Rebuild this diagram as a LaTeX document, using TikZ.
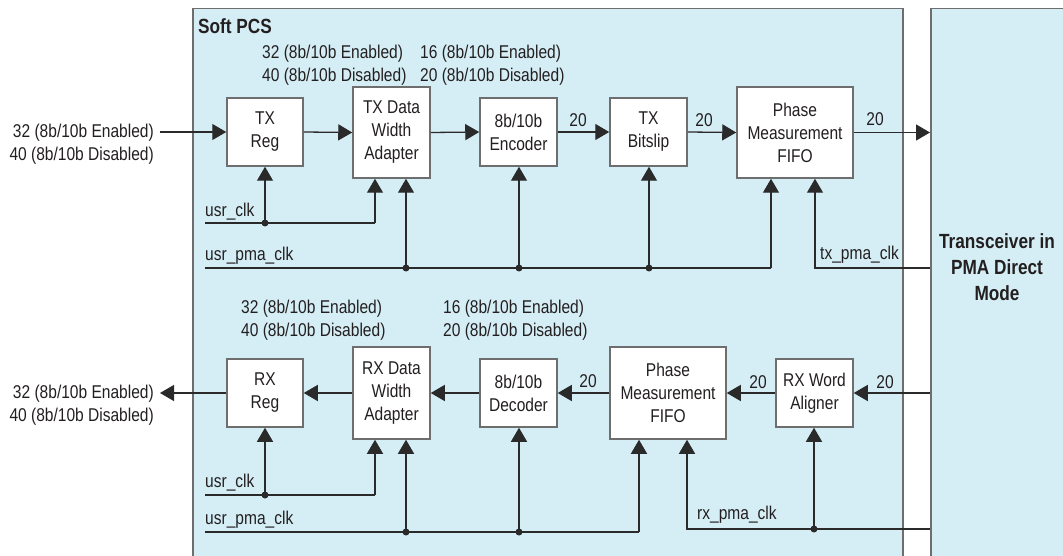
\documentclass[tikz,border=0pt]{standalone}
\usepackage{fontspec}
\setmainfont{Liberation Sans}[FakeStretch=0.84]
\usetikzlibrary{arrows.meta,calc}
\definecolor{pcsfill}{HTML}{D5EEF6}
\definecolor{bordergray}{HTML}{6E6E6E}
\definecolor{linecol}{HTML}{2A2A2A}
\definecolor{txtcol}{HTML}{231F20}
\begin{document}
\begin{tikzpicture}[x=1pt,y=-1pt,
  every node/.style={font=\fontsize{18.5}{23}\selectfont, text=txtcol},
  blk/.style={draw=bordergray, line width=1.5pt, fill=white, align=center, inner sep=0pt},
  region/.style={draw=bordergray, line width=1.5pt, fill=pcsfill, inner sep=0pt},
  conn/.style={draw=linecol, line width=1.3pt},
  arr/.style={conn, -{Triangle[length=14pt,width=16pt]}},
  lbl/.style={inner sep=0pt},
  dot/.style={circle, fill=linecol, inner sep=0pt, minimum size=7pt},
  title/.style={font=\fontsize{20.5}{26}\selectfont\bfseries, inner sep=0pt}
]
\useasboundingbox (0,0) rectangle (1063,556);
\clip (0,0) rectangle (1063,556);
% regions
\node[region, anchor=north west, minimum width=710, minimum height=580] (pcs) at (192,8) {};
\node[region, anchor=north west, minimum width=150, minimum height=580] (trx) at (930,8) {};
\node[title, anchor=west] (pcslbl) at (198,26) {Soft PCS};
\node[title, align=center] (trxlbl) at (997,267) {Transceiver in\\PMA Direct\\Mode};

% TX blocks
\node[blk, minimum width=76, minimum height=68] (txreg) at (265,132) {TX\\Reg};
\node[blk, minimum width=77, minimum height=91] (txadp) at (391.5,132.5) {TX Data\\Width\\Adapter};
\node[blk, minimum width=77, minimum height=68] (txenc) at (518.5,132) {8b/10b\\Encoder};
\node[blk, minimum width=77, minimum height=68] (txbit) at (648.5,132) {TX\\Bitslip};
\node[blk, minimum width=116, minimum height=91] (txfifo) at (795,132.5) {Phase\\Measurement\\FIFO};

% RX blocks
\node[blk, minimum width=76, minimum height=68] (rxreg) at (265,393) {RX\\Reg};
\node[blk, minimum width=77, minimum height=92] (rxadp) at (391.5,393) {RX Data\\Width\\Adapter};
\node[blk, minimum width=77, minimum height=68] (rxdec) at (518.5,393) {8b/10b\\Decoder};
\node[blk, minimum width=116, minimum height=92] (rxfifo) at (668,393) {Phase\\Measurement\\FIFO};
\node[blk, minimum width=77, minimum height=68] (rxalign) at (814.5,393) {RX Word\\Aligner};

% TX labels
\node[lbl, align=left, anchor=west] (txl1) at (262,65) {32 (8b/10b Enabled)\\40 (8b/10b Disabled)};
\node[lbl, align=left, anchor=west] (txl2) at (420,65) {16 (8b/10b Enabled)\\20 (8b/10b Disabled)};
\node[lbl, align=right, anchor=east] (txinl) at (154,144) {32 (8b/10b Enabled)\\40 (8b/10b Disabled)};
\node[lbl] (tx20a) at (578,120) {20};
\node[lbl] (tx20b) at (704,120) {20};
\node[lbl] (tx20c) at (875,119) {20};
\node[lbl, anchor=west] (tucl) at (205,212) {usr\_clk};
\node[lbl, anchor=west] (tupl) at (205,256) {usr\_pma\_clk};
\node[lbl, anchor=west] (tpcl) at (820,255) {tx\_pma\_clk};

% RX labels
\node[lbl, align=left, anchor=west] (rxl1) at (241,320) {32 (8b/10b Enabled)\\40 (8b/10b Disabled)};
\node[lbl, align=left, anchor=west] (rxl2) at (443,320) {16 (8b/10b Enabled)\\20 (8b/10b Disabled)};
\node[lbl, align=right, anchor=east] (rxoutl) at (154,405) {32 (8b/10b Enabled)\\40 (8b/10b Disabled)};
\node[lbl] (rx20a) at (588,381) {20};
\node[lbl] (rx20b) at (758,382) {20};
\node[lbl] (rx20c) at (885,382) {20};
\node[lbl, anchor=west] (rucl) at (205,483) {usr\_clk};
\node[lbl, anchor=west] (rupl) at (205,520) {usr\_pma\_clk};
\node[lbl, anchor=west] (rpcl) at (697,515) {rx\_pma\_clk};

% TX data path
\coordinate (txin) at (160,132);
\draw[arr] (txin) -- (txreg.west);
\draw[arr] (txreg.east) -- (txadp.west);
\draw[arr] (txadp.east) -- (txenc.west);
\draw[arr] (txenc.east) -- (txbit.west);
\draw[arr] (txbit.east) -- (txfifo.west);
\draw[arr] (txfifo.east) -- (txfifo.east -| trx.west);

% TX clocks
\coordinate (tuc0) at (205,223);
\coordinate (tuc1) at (375,223);
\draw[conn] (tuc0) -- (tuc1);
\draw[arr] (tuc1) -- (tuc1 |- txadp.south);
\node[dot] (tucd) at (265,223) {};
\draw[arr] (tucd.center) -- (txreg.south);

\coordinate (tup0) at (205,268);
\coordinate (tup1) at (771,268);
\draw[conn] (tup0) -- (tup1);
\draw[arr] (tup1) -- (tup1 |- txfifo.south);
\node[dot] (tupd1) at (406,268) {};
\node[dot] (tupd2) at (519,268) {};
\node[dot] (tupd3) at (649,268) {};
\draw[arr] (tupd1.center) -- (tupd1.center |- txadp.south);
\draw[arr] (tupd2.center) -- (tupd2.center |- txenc.south);
\draw[arr] (tupd3.center) -- (tupd3.center |- txbit.south);

\coordinate (tpc) at (815,268);
\draw[arr] (tpc -| trx.west) -- (tpc) -- (tpc |- txfifo.south);

% RX data path
\coordinate (rxout) at (160,393);
\draw[arr] (rxalign.east -| trx.west) -- (rxalign.east);
\draw[arr] (rxalign.west) -- (rxfifo.east);
\draw[arr] (rxfifo.west) -- (rxdec.east);
\draw[arr] (rxdec.west) -- (rxadp.east);
\draw[arr] (rxadp.west) -- (rxreg.east);
\draw[arr] (rxreg.west) -- (rxout);

% RX clocks
\coordinate (ruc0) at (205,495);
\coordinate (ruc1) at (375,495);
\draw[conn] (ruc0) -- (ruc1);
\draw[arr] (ruc1) -- (ruc1 |- rxadp.south);
\node[dot] (rucd) at (265,495) {};
\draw[arr] (rucd.center) -- (rxreg.south);

\coordinate (rup0) at (205,532);
\coordinate (rup1) at (639,532);
\draw[conn] (rup0) -- (rup1);
\draw[arr] (rup1) -- (rup1 |- rxfifo.south);
\node[dot] (rupd1) at (406,532) {};
\node[dot] (rupd2) at (519,532) {};
\draw[arr] (rupd1.center) -- (rupd1.center |- rxadp.south);
\draw[arr] (rupd2.center) -- (rupd2.center |- rxdec.south);

\coordinate (rpc) at (687,529);
\draw[arr] (rpc -| trx.west) -- (rpc) -- (rpc |- rxfifo.south);
\node[dot] (rpcd) at (814,529) {};
\draw[arr] (rpcd.center) -- (rpcd.center |- rxalign.south);
\end{tikzpicture}
\end{document}
